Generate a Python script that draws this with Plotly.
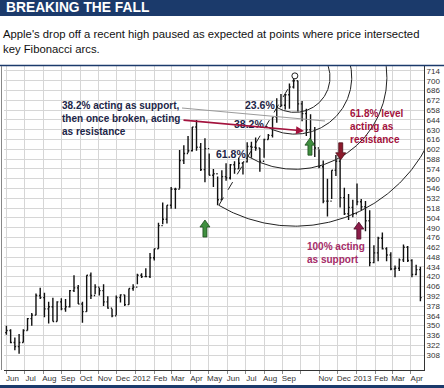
import numpy as np
import pandas as pd
import plotly.graph_objects as go

# ---------------- data (AAPL weekly bars) ----------------
week_mid = pd.date_range("2011-06-01", periods=99, freq="7D")  # mid-week of each weekly bar

week_high = [350, 345, 333, 338, 345, 361, 368, 396, 404, 397, 384, 390, 385, 389, 388, 401,
             422, 408, 384, 422, 426, 409, 404, 409, 392, 374, 393, 395, 394, 403, 409,
             424, 425, 432, 454, 460, 497, 526, 522, 548, 547, 601, 608, 621, 634, 644, 611,
             618, 596, 574, 563, 572, 582, 581, 585, 590, 584, 612, 613, 619, 604, 617, 624,
             648, 675, 681, 681, 696, 705, 700, 671, 660, 652, 634, 602, 586, 560, 572, 594,
             590, 547, 538, 530,
             553, 531, 528, 515, 465, 477, 483, 462, 455, 436, 446, 466, 464, 445, 437, 434]
week_low = [337, 325, 315, 310, 326, 343, 350, 365, 388, 362, 353, 356, 356, 372, 370, 376,
            398, 381, 354, 370, 388, 395, 393, 378, 374, 362, 365, 383, 378, 380, 400,
            409, 418, 419, 418, 443, 460, 495, 496, 517, 517, 546, 581, 597, 599, 600, 571,
            555, 565, 548, 522, 530, 557, 559, 567, 574, 566, 583, 590, 600, 570, 590, 616,
            619, 640, 663, 659, 660, 689, 656, 642, 621, 603, 591, 575, 525, 506, 531, 564,
            519, 508, 501, 505,
            522, 515, 485, 435, 439, 442, 459, 442, 429, 419, 428, 441, 441, 419, 422, 385]
week_close = [343, 326, 320, 326, 343, 360, 365, 393, 390, 374, 377, 356, 384, 374, 377, 400,
              404, 381, 370, 422, 393, 405, 400, 384, 375, 364, 390, 394, 380, 403, 405,
              422, 420, 420, 447, 460, 493, 502, 522, 545, 545, 586, 596, 600, 634, 605, 573,
              603, 565, 567, 530, 563, 561, 580, 574, 582, 584, 606, 605, 604, 585, 616, 622,
              648, 663, 665, 680, 691, 700, 667, 653, 630, 610, 604, 577, 528, 528, 572, 585,
              533, 510, 519, 510,
              527, 520, 500, 440, 454, 475, 460, 451, 431, 432, 444, 462, 443, 423, 430, 390]
first_open = 340
week_open = [first_open] + week_close[:-1]

swing_low_date, swing_low_price = "2012-05-18", 522
swing_high_date, swing_high_price = "2012-09-21", 705
fib_ratios = [0.236, 0.382, 0.618, 1.0]
fib_labels = ["23.6%", "38.2%", "61.8%", ""]

month_starts = pd.date_range("2011-06-01", "2013-04-01", freq="MS")
month_labels = ["Jun", "Jul", "Aug", "Sep", "Oct", "Nov", "Dec", "2012", "Feb", "Mar", "Apr",
                "May", "Jun", "Jul", "Aug", "Sep", "", "Nov", "Dec", "2013", "Feb", "Mar", "Apr"]
price_ticks = list(range(308, 715, 14))

# ---------------- layout geometry ----------------
W, H = 444, 388
ML, MR, MT, MB = 4, 20, 66, 18
PW, PH = W - ML - MR, H - MT - MB
X0, X1 = pd.Timestamp("2011-05-28"), pd.Timestamp("2013-04-23")
Y0, Y1 = 286.6, 721.1
ppd = PW / ((X1 - X0) / pd.Timedelta(days=1))
ppv = PH / (Y1 - Y0)


def px(X):
    return (X - ML) / PW


def py(Y):
    return (H - MB - Y) / PH


NAVY = "#1b3a6b"
TXT = "#1c2547"
CRIMSON = "#a3123d"
MAGENTA = "#a52c68"
FONT = "Arial, Liberation Sans, sans-serif"

fig = go.Figure()

fig.add_trace(go.Ohlc(
    x=week_mid, open=week_open, high=week_high, low=week_low, close=week_close,
    increasing_line_color="#111111", decreasing_line_color="#111111",
    line_width=1.4, tickwidth=0.3, showlegend=False, hoverinfo="skip"))

# Fibonacci arcs
hd = pd.Timestamp(swing_high_date)
ld = pd.Timestamp(swing_low_date)
dx = (ld - hd) / pd.Timedelta(days=1) * ppd
dy = (swing_high_price - swing_low_price) * ppv
L = float(np.hypot(dx, dy))
th0 = float(np.arctan2(dy, dx))
th = np.linspace(th0, -np.pi / 2, 300)
annotations = []
for r, lab in zip(fib_ratios, fib_labels):
    rr = r * L
    xs = hd + pd.to_timedelta(rr * np.cos(th) / ppd, unit="D")
    ys = swing_high_price - rr * np.sin(th) / ppv
    fig.add_trace(go.Scatter(x=xs, y=ys, mode="lines", line=dict(color="#222222", width=1),
                             showlegend=False, hoverinfo="skip"))
    if lab:
        annotations.append(dict(
            x=hd + pd.Timedelta(days=r * dx / ppd), y=swing_high_price - r * dy / ppv,
            xref="x", yref="y", text="<b>%s</b>" % lab, showarrow=False,
            xanchor="right", yanchor="middle", xshift=0, yshift=2,
            font=dict(family=FONT, size=10.5, color=TXT)))

# trend line low -> high
fig.add_trace(go.Scatter(x=[ld, hd], y=[swing_low_price, swing_high_price], mode="lines",
                         line=dict(color="#222222", width=1, dash="dash"),
                         showlegend=False, hoverinfo="skip"))
fig.add_trace(go.Scatter(x=[hd], y=[swing_high_price + 2], mode="markers",
                         marker=dict(symbol="circle", size=6, color="white",
                                     line=dict(color="#222222", width=1)),
                         showlegend=False, hoverinfo="skip"))

shapes = [
    dict(type="rect", xref="paper", yref="paper", x0=px(0), x1=px(W), y0=py(16), y1=py(0),
         fillcolor=NAVY, line_width=0, layer="above"),
    dict(type="line", xref="paper", yref="paper", x0=px(0), x1=px(W), y0=py(65.5), y1=py(65.5),
         line=dict(color=NAVY, width=1.5)),
    dict(type="rect", xref="paper", yref="paper", x0=px(0), x1=px(W), y0=py(388), y1=py(385),
         fillcolor=NAVY, line_width=0),
    dict(type="line", xref="paper", yref="paper", x0=px(1.5), x1=px(1.5), y0=py(370), y1=py(66),
         line=dict(color="#888888", width=1)),
    # pointer line
    dict(type="line", xref="paper", yref="paper", x0=px(182), y0=py(108), x1=px(325), y1=py(121),
         line=dict(color="#9a9a9a", width=1)),
]


def block_arrow(xd, yv, color, edge, up=True):
    s = 1 if up else -1
    pts = [(0, 0), (5, -7), (2, -7), (2, -17), (-2, -17), (-2, -7), (-5, -7)]
    path = "M " + " L ".join("%g,%g" % (a, s * b) for a, b in pts) + " Z"
    return dict(type="path", xref="x", yref="y", xsizemode="pixel", ysizemode="pixel",
                xanchor=pd.Timestamp(xd), yanchor=yv, path=path,
                fillcolor=color, line=dict(color=edge, width=0.8), layer="above")


shapes += [
    block_arrow("2012-04-25", 501, "#3f8f3f", "#1d4a1d", up=True),
    block_arrow("2012-10-16", 618, "#3f8f3f", "#1d4a1d", up=True),
    block_arrow("2012-12-06", 587, "#8c1a2c", "#4a0d16", up=False),
    block_arrow("2013-01-05", 498, "#8c1d4a", "#4a0d26", up=True),
]

annotations += [
    dict(x=px(4), y=py(8), xref="paper", yref="paper", text="<b>BREAKING THE FALL</b>",
         showarrow=False, xanchor="left", yanchor="middle",
         font=dict(family=FONT, size=13.8, color="white")),
    dict(x=px(1), y=py(26), xref="paper", yref="paper",
         text="Apple's drop off a recent high paused as expected at points where price intersected<br>key Fibonacci arcs.",
         showarrow=False, xanchor="left", yanchor="top", align="left",
         font=dict(family=FONT, size=11.3, color="#111111")),
    dict(x=px(60), y=py(98), xref="paper", yref="paper",
         text="<b>38.2% acting as support,<br>then once broken, acting<br>as resistance</b>",
         showarrow=False, xanchor="left", yanchor="top", align="left",
         font=dict(family=FONT, size=10, color=TXT)),
    dict(x=px(348), y=py(106), xref="paper", yref="paper",
         text="<b>61.8% level<br>acting as<br>resistance</b>",
         showarrow=False, xanchor="left", yanchor="top", align="left",
         font=dict(family=FONT, size=10, color=CRIMSON)),
    dict(x=px(305), y=py(239), xref="paper", yref="paper",
         text="<b>100% acting<br>as support</b>",
         showarrow=False, xanchor="left", yanchor="top", align="left",
         font=dict(family=FONT, size=10, color=MAGENTA)),
    dict(x=px(304), y=py(131), xref="paper", yref="paper",
         ax=182 - 304, ay=120 - 131, axref="pixel", ayref="pixel",
         text="", showarrow=True, arrowhead=2, arrowsize=1,
         arrowwidth=1.6, arrowcolor=CRIMSON),
]

fig.update_layout(
    width=W, height=H, margin=dict(l=ML, r=MR, t=MT, b=MB),
    paper_bgcolor="white", plot_bgcolor="white",
    shapes=shapes, annotations=annotations, showlegend=False,
    font=dict(family=FONT),
    xaxis=dict(type="date", range=[X0, X1], rangeslider=dict(visible=False),
               tickvals=month_starts + pd.Timedelta(days=10), ticktext=month_labels,
               showgrid=False, ticks="", showline=True, linecolor="#333333", linewidth=1,
               tickfont=dict(size=8, color="#333333"), zeroline=False,
               minor=dict(tickvals=list(month_starts), showgrid=True, gridcolor="#d6d6d6",
                          gridwidth=1, ticks="outside", ticklen=3, tickcolor="#888888")),
    yaxis=dict(range=[Y0, Y1], side="right", tickvals=price_ticks,
               showgrid=True, gridcolor="#d6d6d6", gridwidth=1, ticks="",
               showline=True, linecolor="#333333", linewidth=1, zeroline=False,
               tickfont=dict(size=8, color="#333333")),
)

fig.write_html("out.html", config={"displayModeBar": False},
               post_script="document.body.style.margin='0';document.body.style.overflow='hidden';")
